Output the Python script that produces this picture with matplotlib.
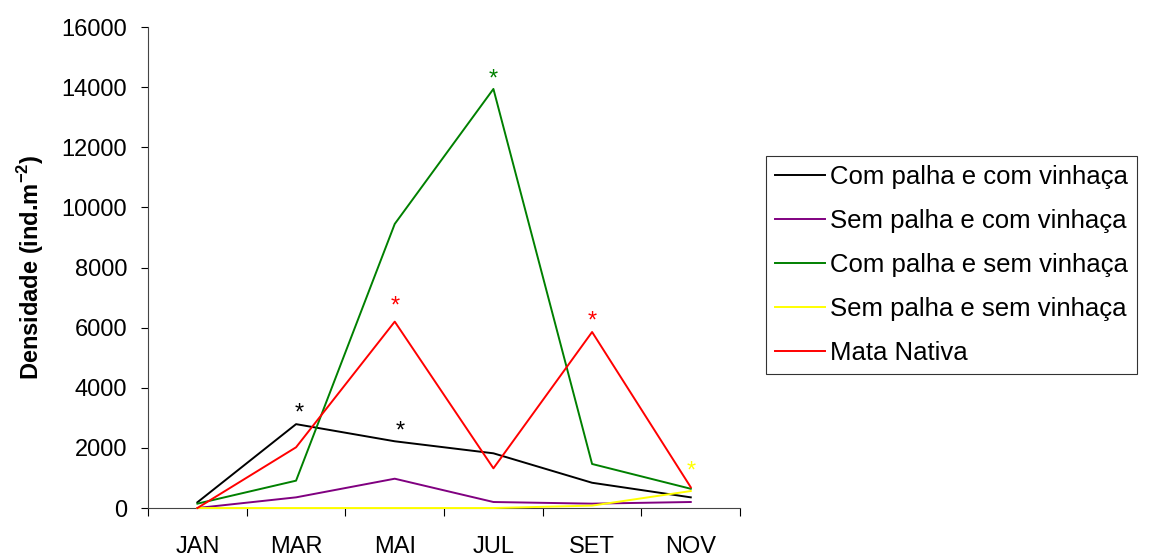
import matplotlib.pyplot as plt

plt.rcParams['font.family'] = ['Liberation Sans', 'DejaVu Sans']

meses = ["JAN", "MAR", "MAI", "JUL", "SET", "NOV"]

com_palha_com_vinhaca = [190, 2790, 2220, 1820, 840, 355]
sem_palha_com_vinhaca = [0, 355, 975, 200, 145, 200]
com_palha_sem_vinhaca = [145, 910, 9450, 13940, 1465, 640]
sem_palha_sem_vinhaca = [0, 0, 0, 0, 80, 565]
mata_nativa = [0, 2020, 6200, 1320, 5855, 690]

# asteriscos (mes, valor, cor)
ast_x = [1.03, 2.06, 2, 3, 4, 5]
ast_y = [3150, 2550, 6700, 14250, 6200, 1200]
ast_cor = ["black", "black", "red", "green", "red", "yellow"]

series = [
    ("Com palha e com vinhaça", com_palha_com_vinhaca, "black"),
    ("Sem palha e com vinhaça", sem_palha_com_vinhaca, "purple"),
    ("Com palha e sem vinhaça", com_palha_sem_vinhaca, "green"),
    ("Sem palha e sem vinhaça", sem_palha_sem_vinhaca, "yellow"),
    ("Mata Nativa", mata_nativa, "red"),
]

fs = 17

fig = plt.figure(figsize=(11.53, 5.56), dpi=100)
ax = fig.add_axes([0.1284, 0.0863, 0.5135, 0.8651])

x = list(range(len(meses)))
for nome, vals, cor in series:
    ax.plot(x, vals, color=cor, linewidth=1.4, label=nome, clip_on=False, zorder=3)

for xa, ya, c in zip(ast_x, ast_y, ast_cor):
    ax.text(xa, ya, "*", color=c, fontsize=17, ha="center", va="center")

ax.set_xlim(-0.5, 5.5)
ax.set_ylim(0, 16000)
ax.set_yticks(range(0, 16001, 2000))
ax.set_xticks([i - 0.5 for i in range(7)])
ax.set_xticklabels([])
ax.set_xticks(x, minor=True)
ax.set_xticklabels(meses, minor=True)
ax.tick_params(axis="x", which="major", direction="out", length=6, width=0.8)
ax.tick_params(axis="x", which="minor", length=0, pad=20, labelsize=fs)
ax.tick_params(axis="y", direction="out", length=5, width=0.8, pad=10, labelsize=fs)

for s in ["top", "right"]:
    ax.spines[s].set_visible(False)
ax.spines["left"].set_color("#444444")
ax.spines["bottom"].set_color("#444444")

ax.set_ylabel("Densidade (ind.m$^{\\mathregular{-2}}$)", fontsize=fs, fontweight="bold", labelpad=11)

leg = ax.legend(loc="upper left", bbox_to_anchor=(766 / 1153, 1 - 156 / 556),
                bbox_transform=fig.transFigure, borderaxespad=0, fontsize=18.5,
                frameon=True, fancybox=False, edgecolor="black", handlelength=1.95,
                handletextpad=0.2, labelspacing=0.78, borderpad=0.35)
leg.get_frame().set_linewidth(0.8)

fig.savefig("out.png", dpi=100)
